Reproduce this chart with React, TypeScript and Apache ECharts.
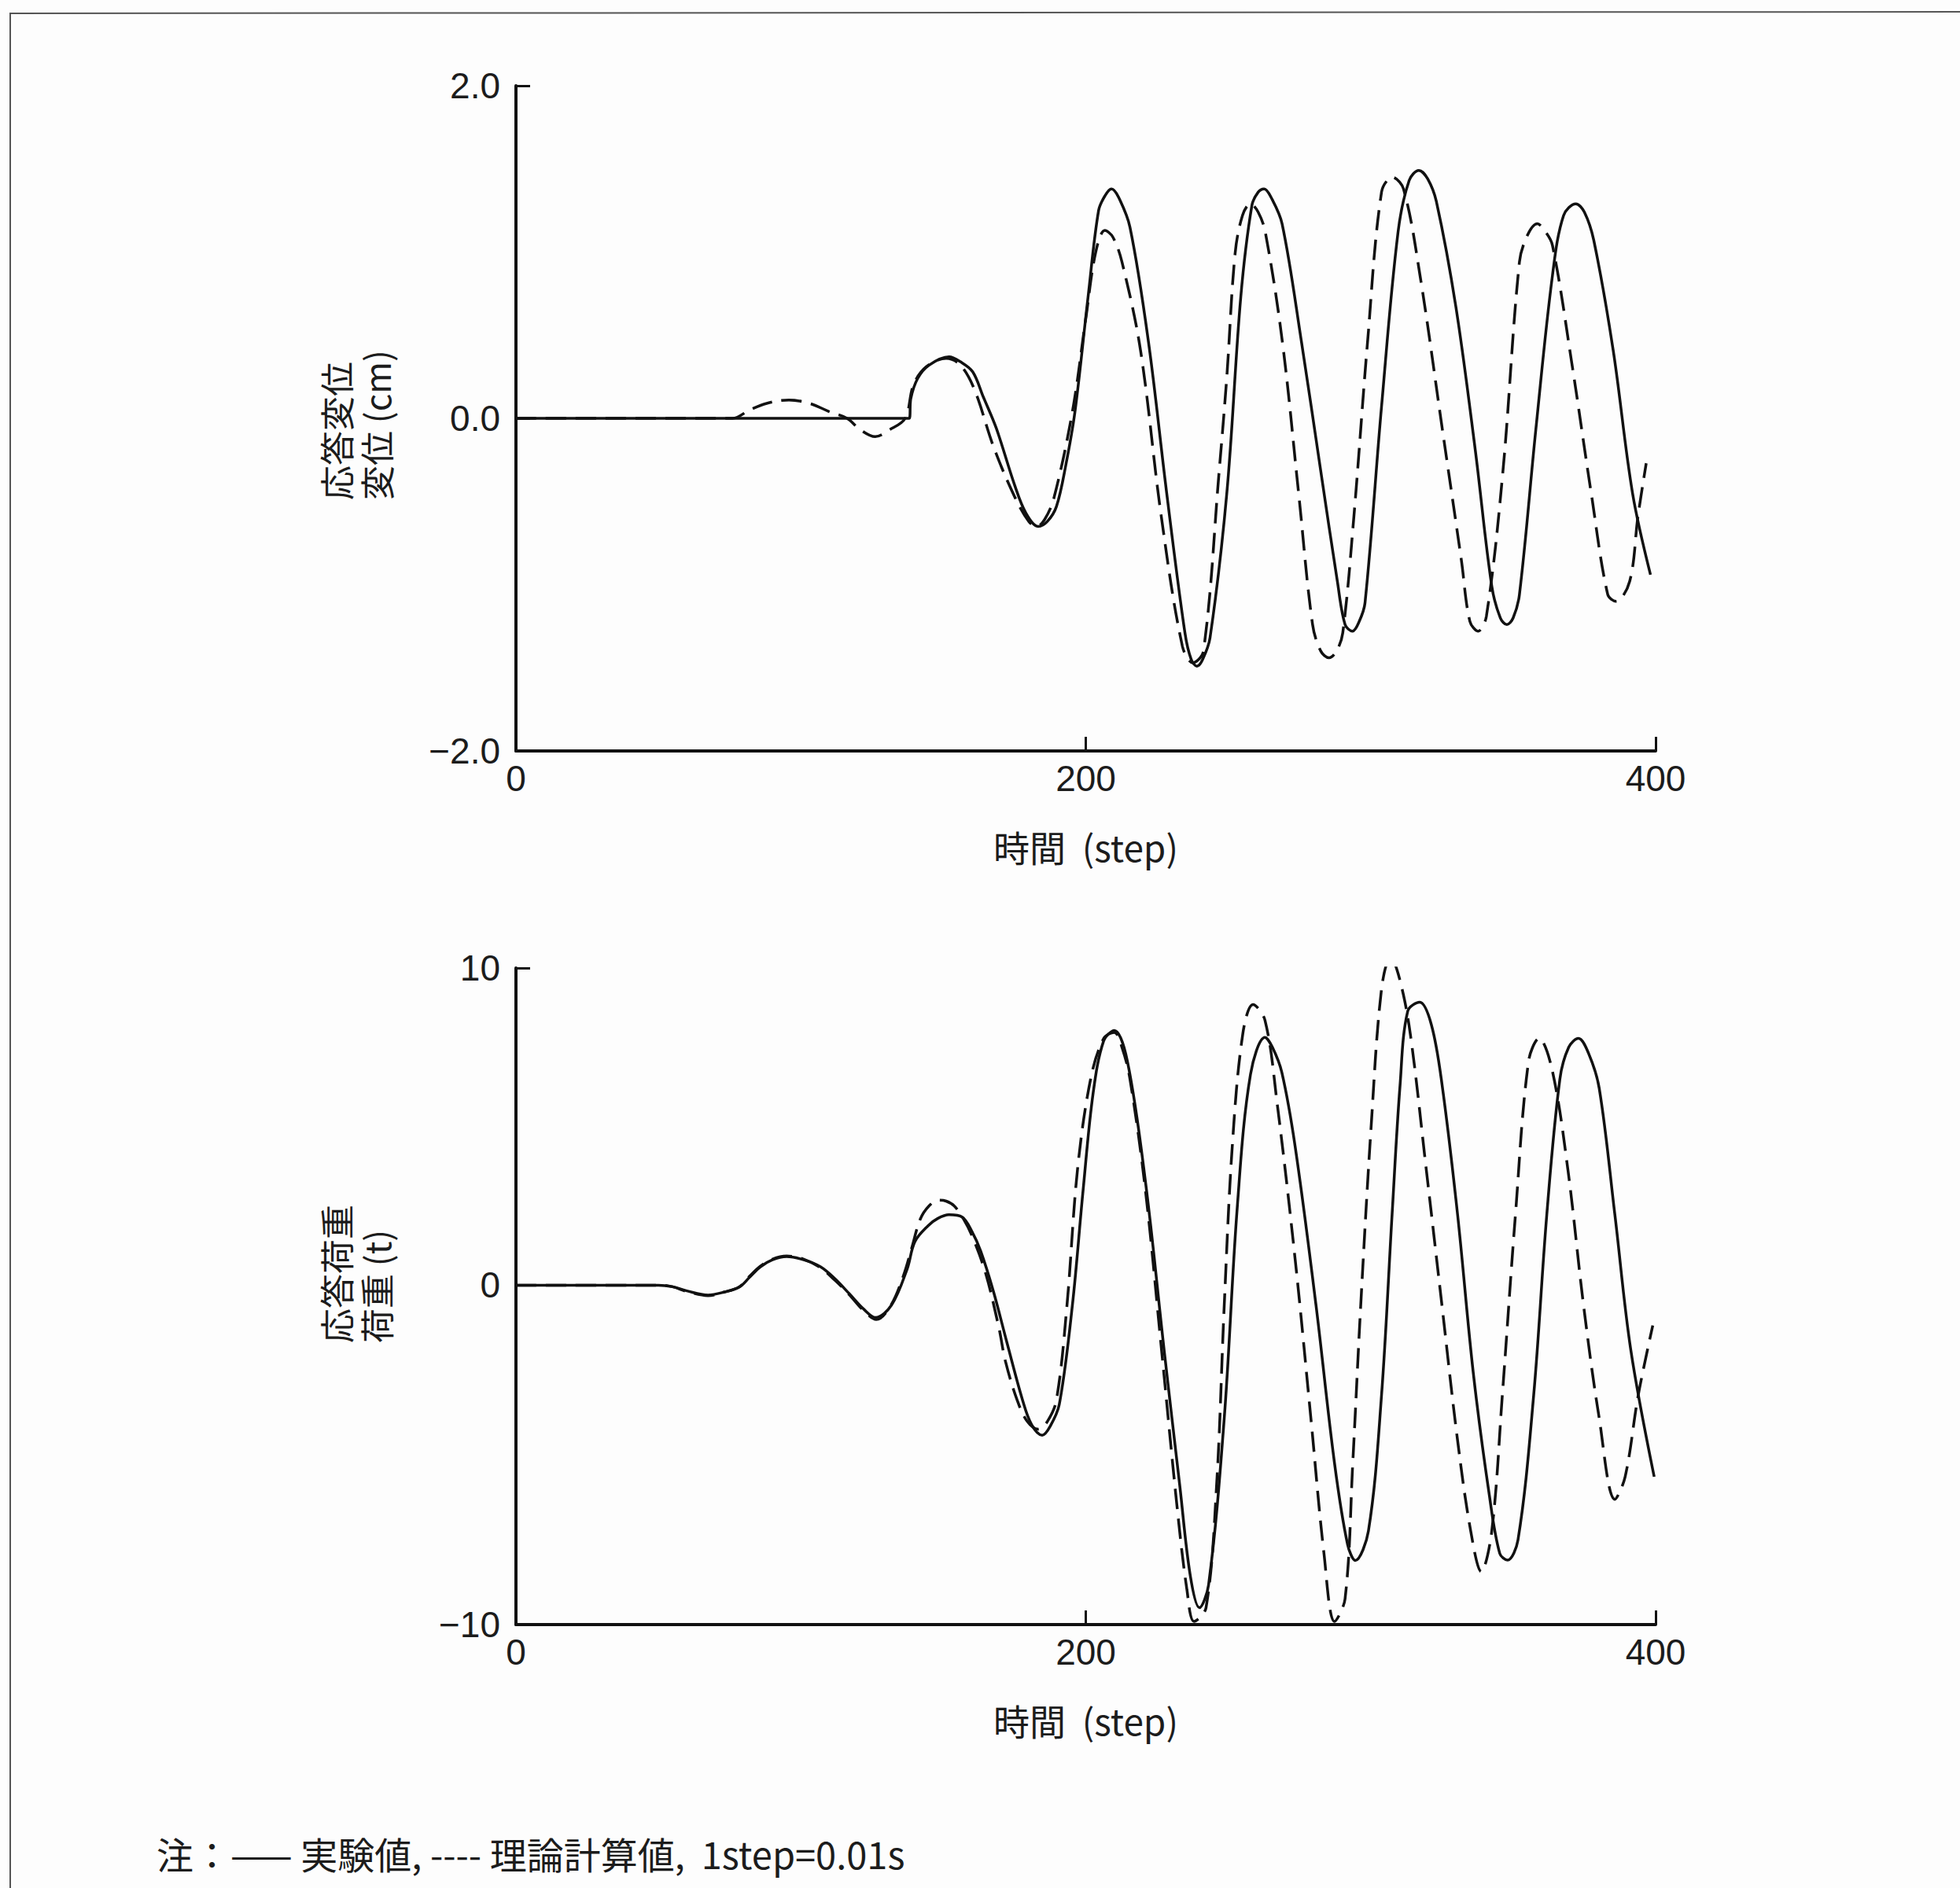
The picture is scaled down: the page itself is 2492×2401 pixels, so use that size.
import React, { useEffect, useRef } from 'react';
import * as echarts from 'echarts';

// ---- tick values / labels ----
const stepTicks = [0, 200, 400];
const dispTicks = [-2, 0, 2];
const loadTickValues = [-10.7, 0, 10];
const loadTickLabels = ['−10', '0', '10'];

// ---- 応答変位 (cm) : 実験値 (solid) ----
const dispExp: number[][] = [
  [0, 0], [138, 0], [138.6, 0.12], [141, 0.24], [145, 0.32], [152, 0.37], [156, 0.34], [160.3, 0.28],
  [164, 0.13], [168.6, -0.06], [175, -0.4], [179, -0.57], [183.3, -0.65], [186.5, -0.62], [189.7, -0.53],
  [193, -0.28], [196.2, 0.04], [200.8, 0.73], [204.5, 1.25], [206.8, 1.34], [209, 1.38], [211.5, 1.33],
  [215.5, 1.15], [222, 0.46], [228.4, -0.45], [234.8, -1.29], [237, -1.45], [239, -1.49], [241, -1.45],
  [243.6, -1.32], [249.5, -0.45], [254.4, 0.73], [258.3, 1.28], [260.5, 1.36], [262.6, 1.38], [265, 1.33],
  [268.9, 1.17], [275.7, 0.46], [282.5, -0.32], [288.3, -0.98], [291, -1.24], [293.6, -1.28], [296, -1.22],
  [298, -1.11], [303.8, 0.07], [309.6, 1.12], [313.5, 1.43], [316.9, 1.49], [320, 1.44], [323.1, 1.3],
  [329.9, 0.67], [336.7, -0.19], [342.5, -1.01], [345.5, -1.2], [347.8, -1.24], [350, -1.2], [352.2, -1.06],
  [358, -0.06], [363.8, 0.86], [367.7, 1.22], [372, 1.29], [375, 1.24], [378.3, 1.07], [385.1, 0.41],
  [391.9, -0.45], [398.2, -0.94],
];

// ---- 応答変位 (cm) : 理論計算値 (dashed) ----
const dispCalc: number[][] = [
  [0, 0], [76, 0], [82, 0.05], [88, 0.09], [95.8, 0.11], [103, 0.09], [110, 0.04], [116.2, 0],
  [121, -0.07], [126.1, -0.11], [131, -0.07], [136.6, 0], [139.5, 0.2], [144, 0.31], [151, 0.36],
  [156, 0.32], [161, 0.17], [167.6, -0.17], [175, -0.47], [180, -0.62], [182.8, -0.65], [185.5, -0.61],
  [188.8, -0.48], [195.3, 0.04], [200, 0.6], [203.5, 1.0], [206.7, 1.13], [209.5, 1.09], [212.7, 0.94],
  [219.2, 0.41], [226.5, -0.59], [233.9, -1.37], [237.6, -1.47], [241.3, -1.4], [246.8, -0.32],
  [249.5, 0.25], [252.4, 0.99], [255, 1.22], [257.8, 1.29], [260.5, 1.24], [263, 1.12], [269, 0.46],
  [274.7, -0.45], [279.6, -1.24], [282.5, -1.4], [285.4, -1.44], [288, -1.4], [290.2, -1.29], [294.1, -0.59],
  [298.9, 0.46], [303.8, 1.36], [307.6, 1.45], [311.5, 1.38], [317.3, 0.86], [325.1, -0.06], [331.8, -0.85],
  [334.8, -1.22], [337.7, -1.28], [340.6, -1.19], [346.4, -0.32], [352.2, 0.94], [355, 1.1], [358.5, 1.17],
  [361, 1.13], [363.8, 1.04], [370.6, 0.33], [377.4, -0.45], [383.2, -1.06], [386.1, -1.1], [390.9, -0.98],
  [393.8, -0.59], [396.7, -0.27],
];

// ---- 応答荷重 (t) : 実験値 (solid) ----
const loadExp: number[][] = [
  [0, 0], [50, 0], [55, -0.05], [60, -0.18], [67.4, -0.31], [73, -0.22], [78.4, -0.06], [82, 0.25],
  [85.8, 0.58], [90, 0.8], [95, 0.9], [101, 0.8], [106.9, 0.58], [112, 0.2], [117, -0.27], [122, -0.75],
  [126.2, -1.02], [131.8, -0.63], [137.3, 0.51], [140, 1.37], [144.6, 1.87], [148, 2.1], [152, 2.22],
  [156.6, 2.15], [160, 1.7], [163.1, 1.08], [167.6, -0.2], [172.3, -1.8], [177.8, -3.62], [181, -4.4],
  [184.7, -4.73], [187.5, -4.45], [190.7, -3.76], [195.3, -0.63], [199, 2.94], [202.6, 6.07], [206.3, 7.71],
  [210, 8.03], [214.6, 7.06], [221, 3.22], [227.5, -2.05], [233, -6.33], [236.7, -9.17], [239.9, -10.17],
  [243.1, -9.45], [248.6, -4.19], [253.2, 2.5], [257.8, 6.64], [262.9, 7.81], [265.5, 7.5], [268.8, 6.71],
  [273.5, 4.36], [280.8, -0.63], [287.3, -5.61], [291.9, -8.18], [294.6, -8.68], [299.2, -7.75],
  [303.8, -3.47], [307.5, 2.22], [310.3, 6.3], [313, 8.64], [317.2, 8.92], [321.3, 8.21], [325, 6.35],
  [330.5, 2.22], [336, -2.76], [341.6, -6.6], [345.3, -8.46], [348, -8.67], [351.7, -8.03], [357.2, -3.47],
  [361.8, 2.22], [366.4, 6.5], [369.5, 7.5], [372.9, 7.78], [376.5, 7.3], [380.2, 6.21], [385.7, 2.22],
  [391.3, -2.05], [399.5, -6.04],
];

// ---- 応答荷重 (t) : 理論計算値 (dashed) ----
const loadCalc: number[][] = [
  [0, 0], [50, 0], [55, -0.05], [60, -0.2], [67.4, -0.33], [73, -0.22], [78.4, -0.05], [82, 0.28],
  [85.8, 0.6], [90, 0.82], [95, 0.92], [101, 0.82], [106.9, 0.55], [112, 0.15], [117, -0.3], [122, -0.8],
  [126.5, -1.08], [131.5, -0.65], [136, 0.3], [139, 1.2], [141.9, 2.08], [145, 2.5], [148.3, 2.68],
  [151, 2.65], [153.8, 2.5], [157, 2.1], [160.3, 1.51], [164.9, 0.36], [169.5, -1.34], [171.8, -2.4],
  [175.9, -3.62], [179.5, -4.3], [183.3, -4.54], [186.5, -4.3], [189.7, -3.62], [193.4, -0.63],
  [197.1, 3.65], [201.7, 6.5], [206.3, 7.78], [210, 7.97], [212.7, 7.5], [215.5, 6.5], [221, 2.94],
  [226.6, -2.05], [232.1, -7.04], [235.5, -9.6], [238, -10.6], [242.2, -10.17], [245.9, -6.33],
  [248.6, -0.63], [251.4, 4.36], [255.1, 7.92], [258.7, 8.85], [262.9, 8.35], [267.1, 5.78], [273.5, 0.8],
  [279, -4.19], [283.6, -8.46], [287.3, -10.6], [291, -9.89], [293.7, -5.61], [296.5, -0.63], [300.2, 5.07],
  [303.8, 9.34], [307, 10.34], [310.3, 9.6], [313.9, 7.92], [319.5, 3.65], [325, -0.63], [330.5, -4.9],
  [335.1, -7.75], [338.8, -9.03], [342.5, -7.75], [346.2, -3.47], [350.8, 2.22], [355.4, 7.06],
  [359.1, 7.78], [363.7, 6.78], [369.2, 3.65], [374.7, -0.63], [380.2, -4.19], [385.7, -6.75],
  [389.3, -6.04], [393.9, -3.47], [399, -1.27],
];

const INK = '#111';
const TXT = '#1c1c1c';
const NUM_FONT = "'Liberation Sans', 'Noto Sans CJK JP', sans-serif";
const JP_FONT = "'Noto Sans CJK JP', sans-serif";

function fmtMinus(s: string) {
  return s.replace('-', '−');
}

function xAxisFor(gridIndex: number) {
  return {
    type: 'value',
    gridIndex,
    min: stepTicks[0],
    max: stepTicks[stepTicks.length - 1],
    interval: stepTicks[1] - stepTicks[0],
    axisLine: { show: true, onZero: false, lineStyle: { color: INK, width: 4 } },
    axisTick: { show: true, inside: true, length: 18, lineStyle: { color: INK, width: 3 } },
    axisLabel: { fontSize: 46, color: TXT, margin: 12, fontFamily: NUM_FONT },
    splitLine: { show: false },
    name: '時間  (step)',
    nameLocation: 'middle',
    nameGap: 98,
    nameTextStyle: { fontSize: 46, color: TXT, fontFamily: JP_FONT },
  };
}

function lineSeries(data: number[][], idx: number, dashed: boolean) {
  return {
    type: 'line',
    xAxisIndex: idx,
    yAxisIndex: idx,
    data,
    showSymbol: false,
    smooth: 0.35,
    lineStyle: { color: INK, width: 3.5, type: dashed ? [26, 12] : 'solid' },
    silent: true,
  };
}

export default function App() {
  const ref = useRef<HTMLDivElement>(null);
  useEffect(() => {
    const chart = echarts.init(ref.current!, null, { renderer: 'svg' });
    chart.setOption({
      animation: false,
      backgroundColor: '#fdfdfd',
      grid: [
        { left: 656, top: 109, width: 1449, height: 846 },
        { left: 656, top: 1231, width: 1449, height: 835 },
      ],
      xAxis: [xAxisFor(0), xAxisFor(1)],
      yAxis: [
        {
          type: 'value',
          gridIndex: 0,
          min: dispTicks[0],
          max: dispTicks[dispTicks.length - 1],
          interval: dispTicks[1] - dispTicks[0],
          axisLine: { show: true, onZero: false, lineStyle: { color: INK, width: 4 } },
          axisTick: { show: true, inside: true, length: 18, lineStyle: { color: INK, width: 3 } },
          axisLabel: {
            fontSize: 46, color: TXT, margin: 20, fontFamily: NUM_FONT,
            formatter: (v: number) => fmtMinus(v.toFixed(1)),
          },
          splitLine: { show: false },
        },
        {
          type: 'value',
          gridIndex: 1,
          min: loadTickValues[0],
          max: loadTickValues[loadTickValues.length - 1],
          axisLine: { show: true, onZero: false, lineStyle: { color: INK, width: 4 } },
          axisTick: {
            show: true, inside: true, length: 18, customValues: loadTickValues,
            lineStyle: { color: INK, width: 3 },
          },
          axisLabel: {
            fontSize: 46, color: TXT, margin: 20, fontFamily: NUM_FONT,
            customValues: loadTickValues,
            formatter: (v: number) => {
              const i = loadTickValues.indexOf(v);
              return i >= 0 ? loadTickLabels[i] : '';
            },
          },
          splitLine: { show: false },
        },
      ],
      series: [
        lineSeries(dispExp, 0, false),
        lineSeries(dispCalc, 0, true),
        lineSeries(loadExp, 1, false),
        lineSeries(loadCalc, 1, true),
      ],
      graphic: [
        { type: 'line', shape: { x1: 12, y1: 17, x2: 2492, y2: 15 }, style: { stroke: '#555', lineWidth: 2 } },
        { type: 'line', shape: { x1: 13, y1: 16, x2: 13, y2: 2401 }, style: { stroke: '#555', lineWidth: 2 } },
        {
          type: 'text', x: 452, y: 636, rotation: Math.PI / 2,
          style: {
            text: '応答変位\n変位 (cm)', fontSize: 44, lineHeight: 51, fontFamily: JP_FONT,
            fill: TXT, align: 'left', verticalAlign: 'middle',
          },
        },
        {
          type: 'text', x: 452, y: 1708, rotation: Math.PI / 2,
          style: {
            text: '応答荷重\n荷重 (t)', fontSize: 44, lineHeight: 51, fontFamily: JP_FONT,
            fill: TXT, align: 'left', verticalAlign: 'middle',
          },
        },
        {
          type: 'text', x: 199, y: 2356,
          style: {
            text: '注：—— 実験値, ---- 理論計算値,  1step=0.01s', fontSize: 47, fontFamily: JP_FONT,
            fill: TXT, align: 'left', verticalAlign: 'middle',
          },
        },
      ],
    });
    return () => chart.dispose();
  }, []);
  return (
    <div
      ref={ref}
      style={{ position: 'fixed', left: 0, top: 0, width: 2492, height: 2401, background: '#fdfdfd' }}
    />
  );
}
